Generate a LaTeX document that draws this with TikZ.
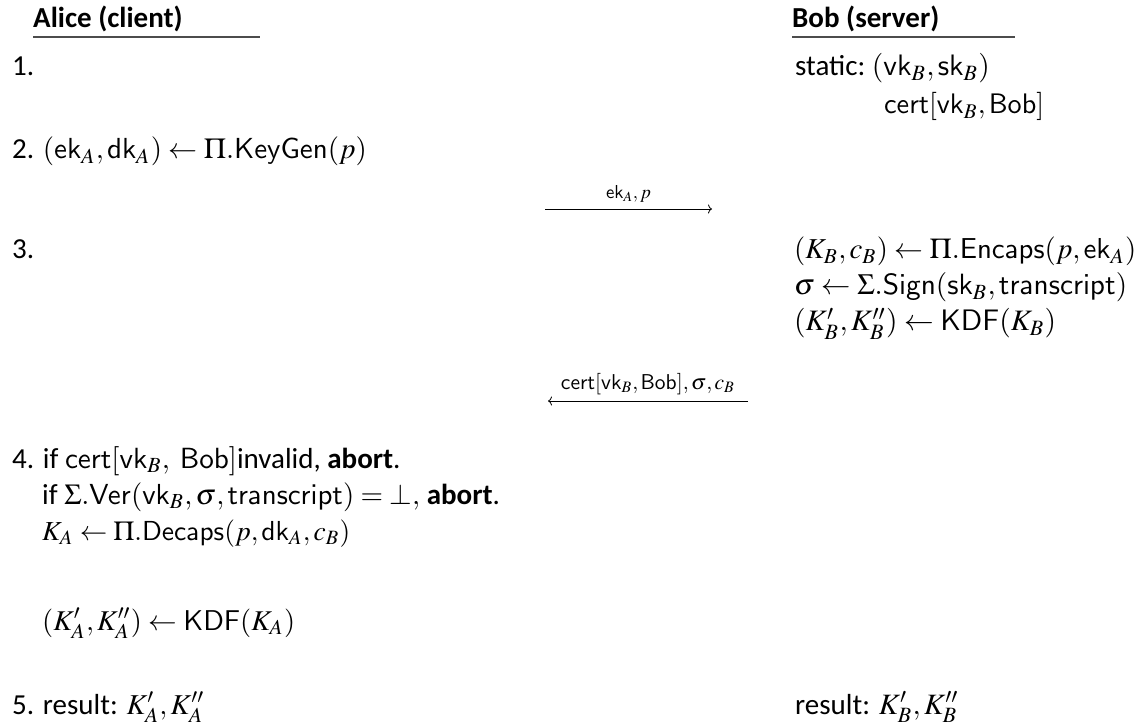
\documentclass[tikz,border=0pt]{standalone}
\usepackage{mathptmx}
\usepackage{graphicx}
\usepackage[no-math]{fontspec}
\setmainfont{Carlito}
\usetikzlibrary{arrows.meta}
\tikzset{
  txt/.style={anchor=base west, inner sep=0pt, font=\fontsize{29}{34}\selectfont},
  lbl/.style={anchor=base, inner sep=0pt},
  rule/.style={line width=1.3pt, draw=black!70},
  msg/.style={line width=0.8pt, -{To[length=4pt,width=9pt]}},
}
\newcommand{\sfm}[1]{\mathsf{#1}}
% formula typeset at 10pt and scaled to a given width
\newcommand{\fitm}[2]{\resizebox{#1pt}{!}{\fontsize{10}{12}\selectfont$#2$}}
\begin{document}
\begin{tikzpicture}[x=1pt,y=-1pt]
\useasboundingbox (0,0) rectangle (1141,727);
% party headers
\node[txt] (alice) at (33,28) {\textbf{Alice (client)}};
\draw[rule] (33,37) -- (260,37);
\node[txt] (bob) at (792,28) {\textbf{Bob (server)}};
\draw[rule] (792,37) -- (1015,37);
% step 1
\node[txt] (s1) at (12,76) {1.};
\node[txt] (bstatic) at (795,76) {static:\ \fitm{118}{(\sfm{vk}_B,\sfm{sk}_B)}};
\node[txt] (bcert) at (884,114) {\fitm{160}{\sfm{cert}[\sfm{vk}_B,\sfm{Bob}]}};
% step 2
\node[txt] (s2) at (12,159) {2. \fitm{324}{(\sfm{ek}_A,\sfm{dk}_A)\leftarrow\Pi.\sfm{KeyGen}(p)}};
\coordinate (m1a) at (545,209);
\coordinate (m1b) at (712,209);
\draw[msg] (m1a) -- node[lbl, above=6pt] {\fitm{45}{\sfm{ek}_A,p}} (m1b);
% step 3
\node[txt] (s3) at (12,259) {3.};
\node[txt] (b3a) at (794,259) {\fitm{342}{(K_B,c_B)\leftarrow\Pi.\sfm{Encaps}(p,\sfm{ek}_A)}};
\node[txt] (b3b) at (794,295) {\fitm{333}{\sigma\leftarrow\Sigma.\sfm{Sign}(\sfm{sk}_B,\sfm{transcript})}};
\node[txt] (b3c) at (794,331) {\fitm{262}{(K'_B,K''_B)\leftarrow\sfm{KDF}(K_B)}};
\coordinate (m2a) at (748,401);
\coordinate (m2b) at (548,401);
\draw[msg] (m2a) -- node[lbl, above=6pt] {\fitm{174}{\sfm{cert}[\sfm{vk}_B,\sfm{Bob}],\sigma,c_B}} (m2b);
% step 4
\node[txt] (s4a) at (12,468) {4. if \fitm{172}{\sfm{cert}[\sfm{vk}_B,\ \sfm{Bob}]}invalid, \textbf{abort}.};
\node[txt] (s4b) at (42,504) {if \fitm{356}{\Sigma.\sfm{Ver}(\sfm{vk}_B,\sigma,\sfm{transcript})=\bot,} \textbf{abort}.};
\node[txt] (s4c) at (42,540) {\fitm{308}{K_A\leftarrow\Pi.\sfm{Decaps}(p,\sfm{dk}_A,c_B)}};
\node[txt] (s4d) at (42,630) {\fitm{253}{(K'_A,K''_A)\leftarrow\sfm{KDF}(K_A)}};
% step 5
\node[txt] (s5a) at (12,714) {5. result: \fitm{78}{K'_A,K''_A}};
\node[txt] (s5b) at (795,714) {result: \fitm{80}{K'_B,K''_B}};
\end{tikzpicture}
\end{document}
